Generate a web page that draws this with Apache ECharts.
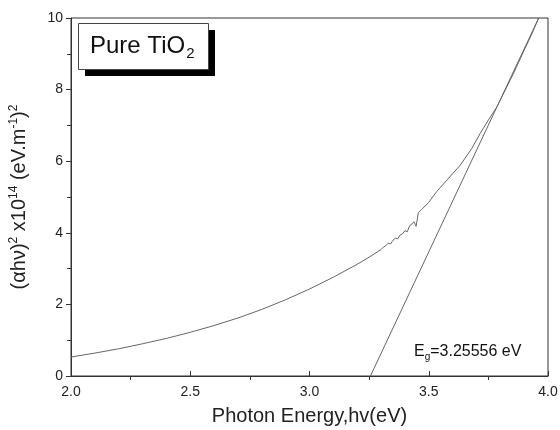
<!DOCTYPE html>
<html><head><meta charset="utf-8">
<script src="https://cdn.jsdelivr.net/npm/echarts@6/dist/echarts.min.js"></script>
<style>html,body{margin:0;padding:0;background:#fff}#c{width:560px;height:430px}</style>
</head><body><div id="c"></div>
<script>
const energy = [2.0,2.1,2.2,2.3,2.4,2.5,2.6,2.7,2.8,2.9,3.0,3.1,3.2,3.25,3.3,
  3.31,3.32,3.33,3.34,3.35,3.36,3.37,3.38,3.39,3.40,3.41,3.42,3.43,3.438,3.443,3.447,3.452,3.456,3.47,3.5,
  3.533,3.576,3.632,3.68,3.716,3.75,3.786,3.82,3.856,3.90,3.93,3.961];
const absorb = [0.53,0.64,0.76,0.90,1.05,1.22,1.41,1.62,1.86,2.13,2.43,2.76,3.12,3.32,3.53,
  3.60,3.64,3.71,3.69,3.79,3.85,3.83,3.94,3.97,4.06,4.03,4.20,4.25,4.31,4.24,4.18,4.38,4.56,4.65,4.85,
  5.15,5.47,5.89,6.35,6.78,7.15,7.52,7.98,8.46,9.10,9.52,10.0];
const tangentX = [3.25556, 3.961];
const tangentY = [0, 10];
const xTicks = [2.0, 2.5, 3.0, 3.5, 4.0];
const xMinorTicks = [2.25, 2.75, 3.25, 3.75];
const yTicks = [0, 2, 4, 6, 8, 10];
const sampleName = 'Pure TiO';
const gapLabel = '=3.25556 eV';

const F = '"Liberation Sans", Arial, sans-serif';
const C = '#222';
const chart = echarts.init(document.getElementById('c'), null, {renderer:'canvas'});
chart.setOption({
  animation: false,
  backgroundColor: '#fff',
  graphic: [
    { type: 'rect', left: 85, top: 30, shape: { width: 130, height: 46 }, style: { fill: '#000' }, z: 10 },
    { type: 'rect', left: 78, top: 23, shape: { width: 130, height: 46 }, style: { fill: '#fff', stroke: '#444', lineWidth: 1 }, z: 11 },
    { type: 'text', left: 90, top: 32, z: 12, style: {
        text: '{a|' + sampleName + '}{s|2}',
        rich: {
          a: { fontFamily: F, fontSize: 24, fill: '#111', lineHeight: 28 },
          s: { fontFamily: F, fontSize: 15, fill: '#111', padding: [14, 0, 0, 1], lineHeight: 28 }
        } } },
    { type: 'text', left: 414, top: 341, z: 12, style: {
        text: '{a|E}{s|g}{a|' + gapLabel + '}',
        rich: {
          a: { fontFamily: F, fontSize: 16, fill: '#111', lineHeight: 20 },
          s: { fontFamily: F, fontSize: 10, fill: '#111', padding: [11, 0, 0, 0], lineHeight: 20 }
        } } }
  ],
  grid: { left: 71, right: 12, top: 18, bottom: 54, show: true, borderColor: '#333', borderWidth: 1,
          containLabel: false, outerBoundsMode: 'none' },
  xAxis: [{
    type: 'value', min: 2, max: 4, interval: 0.5, position: 'bottom',
    name: 'Photon Energy,hv(eV)', nameLocation: 'middle', nameGap: 30,
    nameTextStyle: { fontFamily: F, fontSize: 20, color: C },
    axisLine: { show: true, onZero: false, lineStyle: { color: '#333', width: 1 } },
    axisTick: { show: true, inside: true, length: 5, lineStyle: { color: '#333' } },
    axisLabel: { fontFamily: F, fontSize: 14, color: C, margin: 9,
                 formatter: v => xTicks.indexOf(v) >= 0 ? v.toFixed(1) : '' },
    splitLine: { show: false }
  }, {
    type: 'value', min: 2, max: 4, position: 'bottom',
    axisLine: { show: false },
    axisTick: { show: true, inside: false, length: 4, customValues: xMinorTicks, lineStyle: { color: '#333' } },
    axisLabel: { show: false },
    splitLine: { show: false }
  }],
  yAxis: {
    type: 'value', min: 0, max: 10, interval: 2,
    name: '{n|(αhν)}{s|2}{n| x10}{s|14}{n| (eV.m}{s|-1}{n|)}{s|2}',
    nameLocation: 'middle', nameGap: 39, nameRotate: 90,
    nameTextStyle: { rich: {
      n: { fontFamily: F, fontSize: 20, color: C, lineHeight: 26 },
      s: { fontFamily: F, fontSize: 12, color: C, padding: [0, 0, 11, 0], lineHeight: 26 }
    }},
    axisLine: { show: true, lineStyle: { color: '#333', width: 1 } },
    axisTick: { show: true, inside: false, length: 5, lineStyle: { color: '#333' } },
    minorTick: { show: true, splitNumber: 2, length: 4, lineStyle: { color: '#333' } },
    axisLabel: { fontFamily: F, fontSize: 14, color: C, margin: 8,
                 formatter: v => yTicks.indexOf(v) >= 0 ? String(v) : '' },
    splitLine: { show: false }, minorSplitLine: { show: false }
  },
  series: [{
    type: 'line', xAxisIndex: 0, symbol: 'none', smooth: false,
    lineStyle: { color: '#666', width: 1 },
    data: energy.map((x, i) => [x, absorb[i]])
  }, {
    type: 'line', xAxisIndex: 0, symbol: 'none',
    lineStyle: { color: '#666', width: 1 },
    data: tangentX.map((x, i) => [x, tangentY[i]])
  }]
});
</script></body></html>
